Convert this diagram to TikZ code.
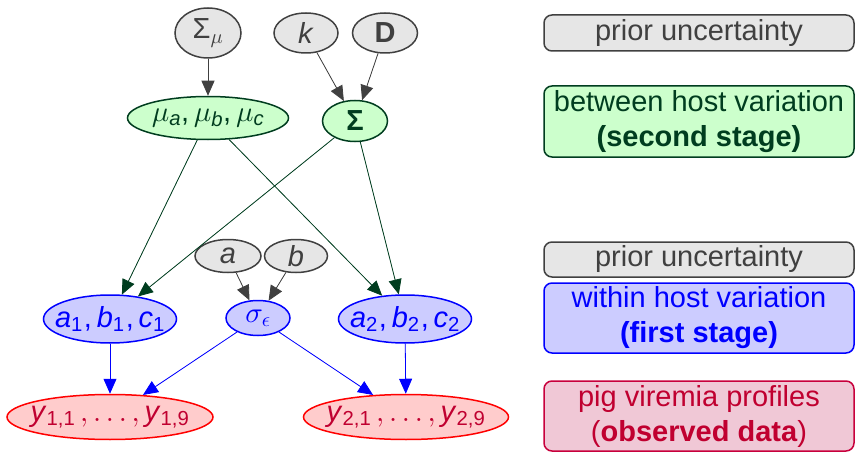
\documentclass[tikz,border=0pt]{standalone}
\usepackage{fontspec}
\setmainfont{Liberation Sans}
\DeclareFontShape{OML}{cmm}{m}{it}{<->cmmi10}{}
\DeclareFontShape{OMS}{cmsy}{m}{n}{<->cmsy10}{}
\DeclareFontShape{OT1}{cmr}{m}{n}{<->cmr10}{}
\usetikzlibrary{shapes.geometric,arrows.meta}
\definecolor{grayfill}{HTML}{E6E6E6}
\definecolor{graydraw}{HTML}{404040}
\definecolor{greenfill}{HTML}{CCFFCC}
\definecolor{greendraw}{HTML}{003D1F}
\definecolor{bluefill}{HTML}{CCCCFF}
\definecolor{bluedraw}{HTML}{0000FF}
\definecolor{redfill}{HTML}{FFCCCC}
\definecolor{reddraw}{HTML}{FF0000}
\definecolor{redtext}{HTML}{C00030}
\definecolor{pinkfill}{HTML}{F0C8D6}
\definecolor{pinkdraw}{HTML}{C8003C}
\newcommand{\sbs}[1]{\textsubscript{#1}}
\newcommand{\iv}[1]{\textit{#1}}
\newcommand{\zw}[1]{\makebox[0pt]{#1}}
\tikzset{
  base/.style={ellipse, inner sep=0pt, line width=1.5pt, font=\fontsize{29}{35}\selectfont},
  graynode/.style={base, fill=grayfill, draw=graydraw, text=graydraw},
  greennode/.style={base, fill=greenfill, draw=greendraw, text=greendraw},
  bluenode/.style={base, fill=bluefill, draw=bluedraw, text=bluedraw},
  rednode/.style={base, fill=redfill, draw=reddraw, text=redtext},
  legend/.style={rectangle, rounded corners=8pt, line width=1.5pt, minimum width=310pt, inner sep=0pt, align=center, font=\fontsize{29}{35}\selectfont},
  grayarrow/.style={-{Triangle[length=15pt,width=13pt]}, draw=graydraw, fill=graydraw, line width=0.8pt},
  greenarrow/.style={-{Triangle[length=15pt,width=13pt]}, draw=greendraw, fill=greendraw, line width=0.8pt},
  bluearrow/.style={-{Triangle[length=15pt,width=13pt]}, draw=bluedraw, fill=bluedraw, line width=0.8pt},
}
\begin{document}
\begin{tikzpicture}[x=1pt,y=-1pt]
\useasboundingbox (0,0) rectangle (855,452);
% prior nodes
\node[graynode, minimum width=66pt, minimum height=50pt] (smu) at (208,33) {Σ\sbs{$\mu$}};
\node[graynode, minimum width=64pt, minimum height=40pt] (k) at (306,33) {\iv{k}};
\node[graynode, minimum width=65pt, minimum height=40pt] (D) at (385,33) {\textbf{D}};
% second stage
\node[greennode, minimum width=161pt, minimum height=43pt] (mu) at (208,118) {\zw{$\mu$\iv{\sbs{a}},\,$\mu$\iv{\sbs{b}},\,$\mu$\iv{\sbs{c}}}};
\node[greennode, minimum width=65pt, minimum height=41pt] (Sig) at (355,121) {\textbf{Σ}};
% priors for sigma
\node[graynode, minimum width=66pt, minimum height=33pt] (a) at (228,256) {\iv{a}};
\node[graynode, minimum width=63pt, minimum height=33pt] (b) at (296,256) {\iv{b}};
% first stage
\node[bluenode, minimum width=64pt, minimum height=35pt] (sig) at (258,318) {$\sigma_\epsilon$};
\node[bluenode, minimum width=133pt, minimum height=48pt] (a1) at (110,319) {\zw{\iv{a}\sbs{1}\kern1pt,\,\iv{b}\sbs{1}\kern1pt,\,\iv{c}\sbs{1}}};
\node[bluenode, minimum width=133pt, minimum height=48pt] (a2) at (405,319) {\zw{\iv{a}\sbs{2}\kern1pt,\,\iv{b}\sbs{2}\kern1pt,\,\iv{c}\sbs{2}}};
% data
\node[rednode, minimum width=206pt, minimum height=45pt] (y1) at (110,417) {\zw{\iv{y}\sbs{1,1}$\,,\ldots,\,$\iv{y}\sbs{1,9}}};
\node[rednode, minimum width=205pt, minimum height=45pt] (y2) at (406,417) {\zw{\iv{y}\sbs{2,1}$\,,\ldots,\,$\iv{y}\sbs{2,9}}};
% arrows
\draw[grayarrow] (smu) -- (mu);
\draw[grayarrow] (k) -- (Sig);
\draw[grayarrow] (D) -- (Sig);
\draw[greenarrow] (mu) -- (a1);
\draw[greenarrow] (Sig) -- (a1);
\draw[greenarrow] (mu) -- (a2);
\draw[greenarrow] (Sig) -- (a2);
\draw[grayarrow] (a) -- (sig);
\draw[grayarrow] (b) -- (sig);
\draw[bluearrow] (a1) -- (y1);
\draw[bluearrow] (sig) -- (y1);
\draw[bluearrow] (sig) -- (y2);
\draw[bluearrow] (a2) -- (y2);
% legend
\node[legend, minimum height=36pt, fill=grayfill, draw=graydraw, text=graydraw] (L1) at (699,33) {prior uncertainty};
\node[legend, minimum height=71pt, fill=greenfill, draw=greendraw, text=greendraw] (L2) at (699,121.5) {between host variation\\\textbf{(second stage)}};
\node[legend, minimum height=35pt, fill=grayfill, draw=graydraw, text=graydraw] (L3) at (699,259.5) {prior uncertainty};
\node[legend, minimum height=70pt, fill=bluefill, draw=bluedraw, text=bluedraw] (L4) at (699,318) {within host variation\\\textbf{(first stage)}};
\node[legend, minimum height=70pt, fill=pinkfill, draw=pinkdraw, text=redtext] (L5) at (699,416) {pig viremia profiles\\(\textbf{observed data})};
\end{tikzpicture}
\end{document}
